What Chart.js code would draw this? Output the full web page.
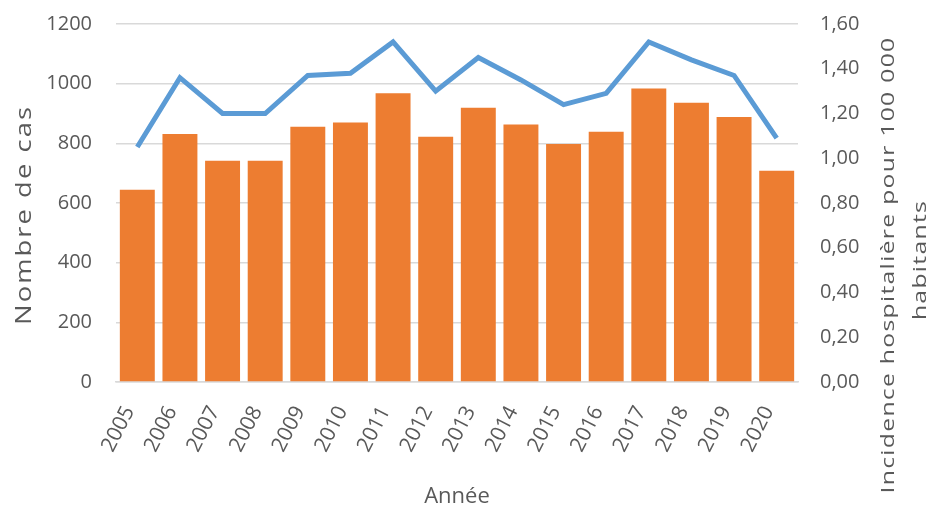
<!DOCTYPE html>
<html>
<head>
<meta charset="utf-8">
<script src="https://cdn.jsdelivr.net/npm/chart.js@4/dist/chart.umd.min.js"></script>
<style>
  html, body { margin: 0; padding: 0; background: #fff; }
  #chart { display: block; }
</style>
</head>
<body>
<canvas id="chart" width="932" height="512"></canvas>
<script>
const years = ['2005', '2006', '2007', '2008', '2009', '2010', '2011', '2012',
    '2013', '2014', '2015', '2016', '2017', '2018', '2019', '2020']
const cases = [644, 831, 742, 742, 856, 870, 968, 822, 919, 863, 798, 839, 984, 936, 888, 708]
const incidence = [1.05, 1.36, 1.20, 1.20, 1.37, 1.38, 1.52, 1.30, 1.45, 1.35, 1.24, 1.29, 1.52, 1.44, 1.37, 1.09]

const leftTitle = 'Nombre de cas'
const rightTitle = ['Incidence hospitalière pour 100 000', 'habitants']

const grey = '#595959'
const font = 'Open Sans'

// the axis titles in the picture are stretched along their length,
// so they are drawn here by hand instead of by the scales
const drawRotated = (ctx, text, x, y, size, stretch, spacing) => {
    ctx.save()
    ctx.translate(x, y)
    ctx.rotate(-Math.PI / 2)
    ctx.scale(stretch, 1)
    ctx.font = size + 'px "' + font + '"'
    ctx.letterSpacing = spacing + 'px'
    ctx.fillStyle = grey
    ctx.textAlign = 'center'
    ctx.textBaseline = 'middle'
    ctx.fillText(text, 0, 0)
    ctx.restore()
}

const axisTitles = {
    id: 'axisTitles',
    afterDraw(chart) {
        const { ctx, chartArea, scales } = chart
        const mid = (chartArea.top + chartArea.bottom) / 2
        drawRotated(ctx, leftTitle, scales.y.left + 25, mid + 12, 21, 1.3, 1.6)
        drawRotated(ctx, rightTitle[0], scales.yRight.right - 43, mid + 62, 19, 1.3, 1)
        drawRotated(ctx, rightTitle[1], scales.yRight.right - 11, mid + 57, 19, 1.3, 1)
    }
}

// keep the plot top where the picture has it
const fixVertical = (scale, width) => {
    scale.width = width
    scale.paddingTop = 24
    scale.paddingBottom = 0
}

const initializeChart = () => {
    const canvas = document.getElementById('chart')
    if (canvas === null) {
        return
    }

    new Chart(canvas, {
        data: {
            labels: years,
            datasets: [{
                type: 'line',
                data: incidence,
                yAxisID: 'yRight',
                borderColor: '#5B9BD5',
                borderWidth: 5,
                pointRadius: 0,
                tension: 0,
                order: 0
            }, {
                type: 'bar',
                data: cases,
                yAxisID: 'y',
                backgroundColor: '#ED7D31',
                barPercentage: 0.82,
                categoryPercentage: 1,
                order: 1
            }]
        },
        options: {
            responsive: false,
            animation: false,
            layout: { padding: 0 },
            plugins: {
                legend: { display: false },
                tooltip: { enabled: false }
            },
            scales: {
                x: {
                    grid: { display: false },
                    border: { color: '#d9d9d9', width: 1.5 },
                    ticks: {
                        color: grey,
                        font: { family: font, size: 21 },
                        maxRotation: 63,
                        minRotation: 63,
                        padding: 12,
                        labelOffset: -8
                    },
                    title: {
                        display: true,
                        text: 'Année',
                        color: grey,
                        font: { family: font, size: 22 },
                        padding: { top: 0, bottom: 2 }
                    },
                    afterFit: (scale) => { scale.height = 130 }
                },
                y: {
                    position: 'left',
                    min: 0,
                    max: 1200,
                    ticks: {
                        stepSize: 200,
                        color: grey,
                        font: { family: font, size: 20 },
                        padding: 24,
                        callback: (value) => String(value)
                    },
                    grid: { color: '#d9d9d9', lineWidth: 1.5, drawTicks: false },
                    border: { display: false },
                    afterFit: (scale) => fixVertical(scale, 116)
                },
                yRight: {
                    position: 'right',
                    min: 0,
                    max: 1.6,
                    ticks: {
                        stepSize: 0.2,
                        color: grey,
                        font: { family: font, size: 20 },
                        padding: 22,
                        callback: (value) => value.toFixed(2).replace('.', ',')
                    },
                    grid: { display: false, drawTicks: false },
                    border: { display: false },
                    afterFit: (scale) => fixVertical(scale, 134)
                }
            }
        },
        plugins: [axisTitles]
    })
}

initializeChart()
</script>
</body>
</html>
